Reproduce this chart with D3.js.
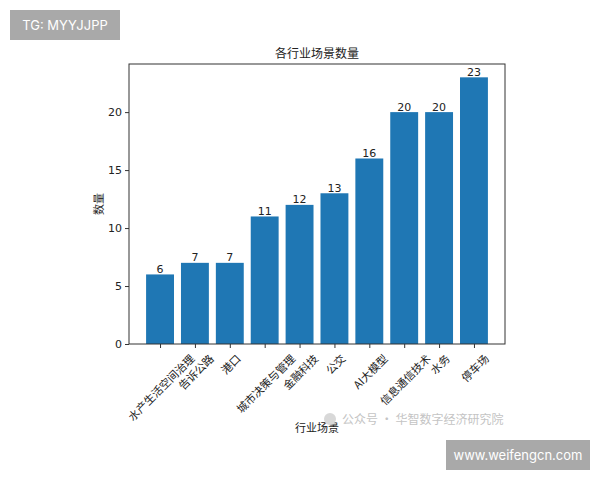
<!DOCTYPE html>
<html><head><meta charset="utf-8">
<script src="https://cdn.jsdelivr.net/npm/d3@7"></script>
<style>body{margin:0;background:#fff;} svg{display:block;font-family:"DejaVu Sans","Noto Sans CJK SC",sans-serif;}</style>
</head><body><svg id="c" width="600" height="480"></svg>
<script>
const categories = ["水产生活空间治理","告诉公路","港口","城市决策与管理","金融科技","公交","AI大模型","信息通信技术","水务","停车场"];
const values = [6,7,7,11,12,13,16,20,20,23];
const yTicks = [0,5,10,15,20];
const title = "各行业场景数量";
const xLabel = "行业场景";
const yLabel = "数量";

const svg = d3.select("#c");
const cjk = '"Noto Sans CJK SC","DejaVu Sans",sans-serif';
const L=129, R=505, T=64, B=344;
const n = categories.length;
const x = d3.scaleLinear().domain([-0.89, n-1+0.89]).range([L,R]);
const y = d3.scaleLinear().domain([0, 23*1.05]).range([B,T]);
const bw = x(0.8)-x(0);

svg.append("g").selectAll("rect").data(values).join("rect")
  .attr("x",(d,i)=>x(i)-bw/2).attr("y",d=>y(d))
  .attr("width",bw).attr("height",d=>B-y(d)).attr("fill","#1f77b4");

svg.append("g").selectAll("text").data(values).join("text")
  .attr("x",(d,i)=>x(i)).attr("y",d=>y(d)-1.5)
  .attr("text-anchor","middle").attr("font-size",11).attr("fill","#222").text(d=>d);

// frame
svg.append("rect").attr("x",L).attr("y",T).attr("width",R-L).attr("height",B-T)
  .attr("fill","none").attr("stroke","#333").attr("stroke-width",1);

// y axis
const ya = svg.append("g").attr("transform",`translate(${L},0)`)
  .call(d3.axisLeft(y).tickValues(yTicks).tickSize(4).tickPadding(3));
ya.select(".domain").remove();
ya.selectAll("text").attr("font-size",11).attr("fill","#222").style("font-family","DejaVu Sans");
ya.selectAll("line").attr("stroke","#333");

// x axis (labels rotated 45°, bbox centred on tick like matplotlib ha=center)
const fs = 11;
const xa = svg.append("g").attr("transform",`translate(0,${B})`)
  .call(d3.axisBottom(x).tickValues(d3.range(n)).tickSize(4).tickFormat(i=>categories[i]));
xa.select(".domain").remove();
xa.selectAll("line").attr("stroke","#333");
xa.selectAll("text").attr("font-size",fs).attr("fill","#222").style("font-family",cjk)
  .attr("text-anchor","middle").attr("dy",null).attr("y",null)
  .attr("dominant-baseline","central")
  .each(function(){
    const len = this.getComputedTextLength();
    const h = (len + fs) * Math.SQRT1_2;
    d3.select(this).attr("transform",`translate(0,${8 + h/2}) rotate(-45)`);
  });

svg.append("text").attr("x",(L+R)/2).attr("y",58).attr("text-anchor","middle")
  .attr("font-size",12).style("font-family",cjk).attr("fill","#222").text(title);
svg.append("text").attr("x",(L+R)/2).attr("y",432).attr("text-anchor","middle")
  .attr("font-size",11).style("font-family",cjk).attr("fill","#222").text(xLabel);
svg.append("text").attr("transform",`translate(103,${(T+B)/2}) rotate(-90)`).attr("text-anchor","middle")
  .attr("font-size",11).style("font-family",cjk).attr("fill","#222").text(yLabel);

// watermarks
svg.append("circle").attr("cx",330).attr("cy",419).attr("r",6).attr("fill","#d8d8d8");
svg.append("text").attr("x",342).attr("y",424).attr("font-size",12).style("font-family",cjk)
  .attr("fill","#c4c4c4").text("公众号 · 华智数字经济研究院");
svg.append("rect").attr("x",10).attr("y",10).attr("width",110).attr("height",30).attr("fill","#a9a9a9");
svg.append("text").attr("x",65).attr("y",30).attr("text-anchor","middle").attr("font-size",13)
  .attr("fill","#fff").style("font-family","Inter, DejaVu Sans").text("TG: MYYJJPP");
svg.append("rect").attr("x",446).attr("y",440).attr("width",144).attr("height",30).attr("fill","#a9a9a9");
svg.append("text").attr("x",518).attr("y",460).attr("text-anchor","middle").attr("font-size",13)
  .attr("fill","#fff").style("font-family","Inter, DejaVu Sans").text("www.weifengcn.com");
</script></body></html>
